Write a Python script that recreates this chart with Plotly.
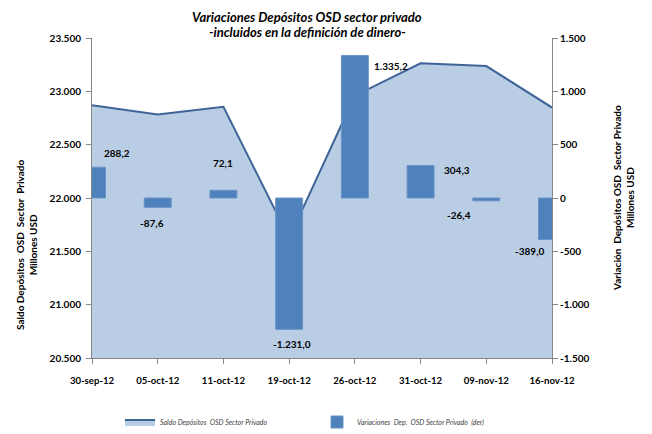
import plotly.graph_objects as go

# ---------------- data ----------------
fechas = ["30-sep-12", "05-oct-12", "11-oct-12", "19-oct-12",
          "26-oct-12", "31-oct-12", "09-nov-12", "16-nov-12"]
saldo = [22870, 22782, 22855, 21624, 22959, 23263, 23237, 22848]
variacion = [288.2, -87.6, 72.1, -1231.0, 1335.2, 304.3, -26.4, -389.0]
etiquetas = ["288,2", "-87,6", "72,1", "-1.231,0", "1.335,2", "304,3", "-26,4", "-389,0"]

left_vals = [20500, 21000, 21500, 22000, 22500, 23000, 23500]
left_text = ["20.500", "21.000", "21.500", "22.000", "22.500", "23.000", "23.500"]
right_vals = [-1500, -1000, -500, 0, 500, 1000, 1500]
right_text = ["-1.500", "-1.000", "-500", "0", "500", "1.000", "1.500"]

# label offsets (pixels) relative to bar end
lab_dx = [25, -6, 0, 3, 36, 36, -27, -23]
lab_dy = [14, -16, 27, -15, -10, -4, -14, -12]

FONT = "Lato"
AREA_FILL = "#B9CDE5"
AREA_LINE = "#3E6497"
BAR_FILL = "#4F81BD"

# page body has an 8px margin: the figure div starts at (8, 8)
OFF = 8
W, H = 652 - OFF, 434 - OFF
# desired plot area in page pixels: x 92..552, y 38..358
ml, mr = 92 - OFF, 652 - 552
mt, mb = 38 - OFF, 434 - 358
pw, ph = W - ml - mr, H - mt - mb


def px2paper(xp, yp):
    """page pixel -> paper coordinates"""
    return (xp - OFF - ml) / pw, (H - mb - (yp - OFF)) / ph


fig = go.Figure()
fig.add_trace(go.Scatter(
    x=fechas, y=saldo, name="Saldo Depósitos  OSD Sector Privado",
    mode="lines", fill="tozeroy", fillcolor=AREA_FILL,
    line=dict(color=AREA_LINE, width=2), yaxis="y",
))
fig.add_trace(go.Bar(
    x=fechas, y=variacion, name="Variaciones  Dep.  OSD Sector Privado  (der)",
    marker=dict(color=BAR_FILL, line=dict(color="#6B93C6", width=1)),
    width=0.41, yaxis="y2",
))

for i, (v, t) in enumerate(zip(variacion, etiquetas)):
    fig.add_annotation(
        x=fechas[i], y=v, xref="x", yref="y2", text=t, showarrow=False,
        xshift=lab_dx[i], yshift=lab_dy[i],
        font=dict(family=FONT, size=10, color="#000000", weight="bold"),
    )

title_font = dict(family=FONT, size=13, color="#000000", weight="bold", style="italic")
for txt, yp in [("Variaciones Depósitos OSD sector privado", 17),
                ("-incluidos en la definición de dinero-", 32)]:
    xx, yy = px2paper(307, yp)
    fig.add_annotation(x=xx, y=yy, xref="paper", yref="paper", text=txt,
                       showarrow=False, xanchor="center", yanchor="middle",
                       font=title_font)

ax_font = dict(family=FONT, size=10, color="#000000", weight="bold")
xx, yy = px2paper(26, 245)
fig.add_annotation(x=xx, y=yy, xref="paper", yref="paper",
                   text="Saldo Depósitos  OSD  Sector  Privado<br>Millones USD",
                   textangle=-90, showarrow=False, xanchor="center", yanchor="middle",
                   font=ax_font)
xx, yy = px2paper(623, 198)
fig.add_annotation(x=xx, y=yy, xref="paper", yref="paper",
                   text="Variación  Depósitos OSD  Sector Privado<br>Millones USD",
                   textangle=-90, showarrow=False, xanchor="center", yanchor="middle",
                   font=ax_font)

tick_font = dict(family=FONT, size=10, color="#000000", weight="bold")
xtick_font = dict(family=FONT, size=9.6, color="#000000", weight="bold")
lx, ly = px2paper(120, 422)
fig.update_layout(
    width=W, height=H,
    margin=dict(l=ml, r=mr, t=mt, b=mb, autoexpand=False),
    paper_bgcolor="white", plot_bgcolor="white",
    xaxis=dict(type="category", range=[0, 7], showline=True, linecolor="#868686",
               ticks="outside", ticklen=5, tickcolor="#868686", showgrid=False,
               tickfont=xtick_font, automargin=False, ticklabelstandoff=8),
    yaxis=dict(range=[20500, 23500], tickvals=left_vals, ticktext=left_text,
               showline=True, linecolor="#868686", ticks="outside", ticklen=5,
               tickcolor="#868686", showgrid=False, zeroline=False,
               tickfont=tick_font, automargin=False, ticklabelstandoff=3),
    yaxis2=dict(range=[-1500, 1500], tickvals=right_vals, ticktext=right_text,
                overlaying="y", side="right", showline=True, linecolor="#868686",
                ticks="outside", ticklen=5, tickcolor="#868686", showgrid=False,
                zeroline=False, tickfont=tick_font, automargin=False),
    legend=dict(orientation="h", x=lx, y=ly, xanchor="left", yanchor="middle",
                entrywidth=152,
                font=dict(family=FONT, size=7, color="#404040", style="italic"),
                bgcolor="rgba(0,0,0,0)"),
    showlegend=True,
)

fig.write_html("out.html")
